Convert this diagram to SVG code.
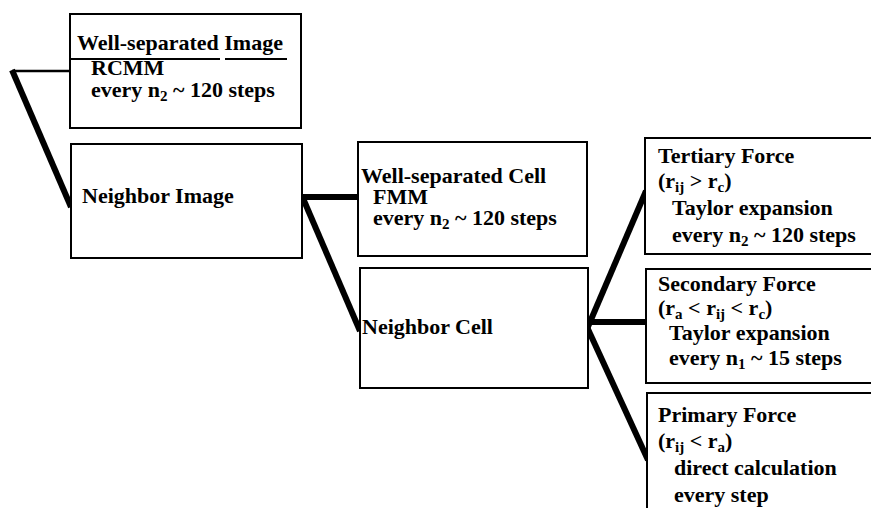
<svg xmlns="http://www.w3.org/2000/svg" width="871" height="508" viewBox="0 0 871 508">
<style>
.box{fill:#fff;stroke:#000;stroke-width:2}
.c{stroke:#000;fill:none;stroke-linecap:butt}
.thick{stroke-width:6}
.thin{stroke-width:2.5}
</style>
<rect width="871" height="508" fill="#fff"/>
<g id="connectors">
<line class="c thin" x1="12" y1="71" x2="70" y2="71"/>
<line class="c thick" x1="12" y1="70" x2="71" y2="207"/>
<line class="c thick" x1="301" y1="197" x2="358" y2="197"/>
<line class="c thick" x1="302" y1="196" x2="360" y2="331"/>
<line class="c thick" x1="587" y1="322" x2="647" y2="322"/>
<line class="c thick" x1="587" y1="329" x2="646" y2="191"/>
<line class="c thick" x1="587" y1="327" x2="648" y2="460"/>
</g>
<g font-family="Liberation Serif, Times New Roman, serif" font-weight="bold" font-size="22" fill="#000">
<g id="well-separated-image">
<rect class="box" x="70" y="14" width="231" height="114"/>
<line x1="70" y1="59" x2="220" y2="59" stroke="#000" stroke-width="2"/>
<line x1="225" y1="59" x2="287" y2="59" stroke="#000" stroke-width="2"/>
<text x="77" y="50">Well-separated Image</text>
<text x="91" y="75">RCMM</text>
<text x="91" y="97">every n<tspan font-size="15" dy="4">2</tspan><tspan dy="-4"> ~ 120 steps</tspan></text>
</g>
<g id="neighbor-image">
<rect class="box" x="71" y="144" width="231" height="114"/>
<text x="82" y="203">Neighbor Image</text>
</g>
<g id="well-separated-cell">
<rect class="box" x="358" y="142" width="229" height="114"/>
<text x="361" y="183">Well-separated Cell</text>
<text x="373" y="204">FMM</text>
<text x="373" y="225">every n<tspan font-size="15" dy="4">2</tspan><tspan dy="-4"> ~ 120 steps</tspan></text>
</g>
<g id="neighbor-cell">
<rect class="box" x="360" y="268" width="228" height="120"/>
<text x="362" y="334">Neighbor Cell</text>
</g>
<g id="tertiary-force">
<rect class="box" x="645" y="138" width="240" height="116"/>
<text x="658" y="163">Tertiary Force</text>
<text x="658" y="188">(r<tspan font-size="15" dy="4">ij</tspan><tspan dy="-4"> &gt; r</tspan><tspan font-size="15" dy="4">c</tspan><tspan dy="-4">)</tspan></text>
<text x="672" y="215">Taylor expansion</text>
<text x="672" y="242">every n<tspan font-size="15" dy="4">2</tspan><tspan dy="-4"> ~ 120 steps</tspan></text>
</g>
<g id="secondary-force">
<rect class="box" x="646" y="269" width="240" height="114"/>
<text x="658" y="291">Secondary Force</text>
<text x="658" y="315">(r<tspan font-size="15" dy="4">a</tspan><tspan dy="-4"> &lt; r</tspan><tspan font-size="15" dy="4">ij</tspan><tspan dy="-4"> &lt; r</tspan><tspan font-size="15" dy="4">c</tspan><tspan dy="-4">)</tspan></text>
<text x="669" y="340">Taylor expansion</text>
<text x="669" y="365">every n<tspan font-size="15" dy="4">1</tspan><tspan dy="-4"> ~ 15 steps</tspan></text>
</g>
<g id="primary-force">
<rect class="box" x="647" y="393" width="240" height="130"/>
<text x="658" y="422">Primary Force</text>
<text x="658" y="448">(r<tspan font-size="15" dy="4">ij</tspan><tspan dy="-4"> &lt; r</tspan><tspan font-size="15" dy="4">a</tspan><tspan dy="-4">)</tspan></text>
<text x="674" y="475">direct calculation</text>
<text x="674" y="502">every step</text>
</g>
</g>
</svg>
